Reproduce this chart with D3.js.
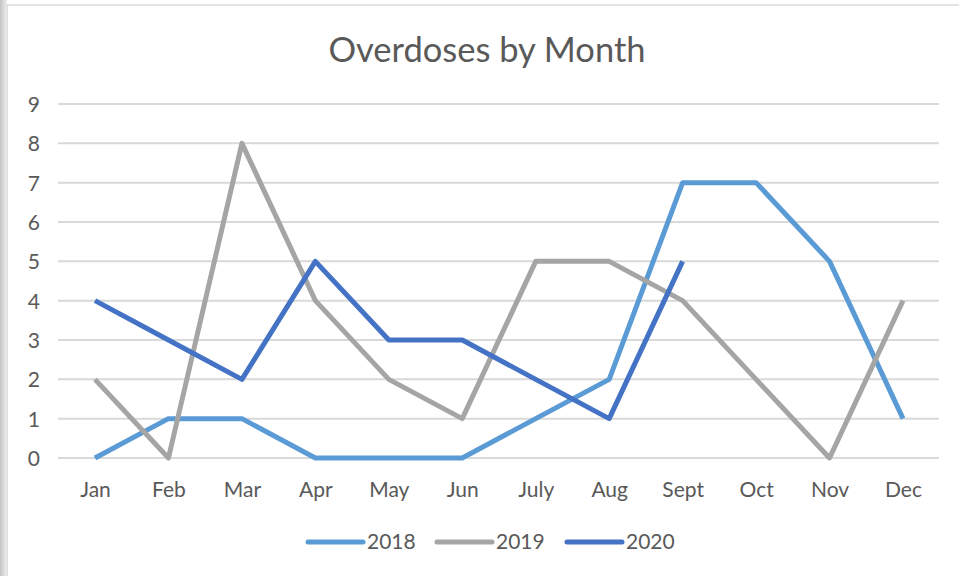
<!DOCTYPE html>
<html>
<head>
<meta charset="utf-8">
<script src="https://cdn.jsdelivr.net/npm/d3@7"></script>
<style>
  body { margin: 0; background: #fff; }
  svg text { font-family: Lato, "Open Sans", sans-serif; fill: #595959; }
</style>
</head>
<body>
<svg id="chart" width="959" height="576"></svg>
<script>
// chart data
let months = ['Jan', 'Feb', 'Mar', 'Apr', 'May', 'Jun', 'July', 'Aug', 'Sept', 'Oct', 'Nov', 'Dec'];
let years = ['2018', '2019', '2020'];
let values2018 = [0, 1, 1, 0, 0, 0, 1, 2, 7, 7, 5, 1];
let values2019 = [2, 0, 8, 4, 2, 1, 5, 5, 4, 2, 0, 4];
let values2020 = [4, 3, 2, 5, 3, 3, 2, 1, 5];
let yTicks = [0, 1, 2, 3, 4, 5, 6, 7, 8, 9];

let COLORS = {
  '2018': '#5B9BD5',
  '2019': '#A5A5A5',
  '2020': '#4472C4'
};

let series = [
  { name: '2018', values: values2018 },
  { name: '2019', values: values2019 },
  { name: '2020', values: values2020 }
];

let svg = d3.select('#chart');

// frame: faint top rule and shadowed left edge
let defs = svg.append('defs');
let grad = defs.append('linearGradient').attr('id', 'shadow').attr('x1', 0).attr('x2', 1);
grad.append('stop').attr('offset', 0).attr('stop-color', '#c4c4c4');
grad.append('stop').attr('offset', 1).attr('stop-color', '#eeeeee');
svg.append('rect').attr('x', 0).attr('y', 0).attr('width', 7).attr('height', 576).attr('fill', 'url(#shadow)');
svg.append('line').attr('x1', 6).attr('x2', 959).attr('y1', 5).attr('y2', 5)
  .attr('stroke', '#e3e3e3').attr('stroke-width', 2);
svg.append('line').attr('x1', 7.5).attr('x2', 7.5).attr('y1', 5).attr('y2', 576)
  .attr('stroke', '#dcdcdc').attr('stroke-width', 1);

let x = d3.scalePoint().domain(months).range([95, 903]);
let y = d3.scaleLinear().domain([0, 9]).range([458, 104]);

// gridlines
svg.append('g').attr('class', 'grid')
  .selectAll('line').data(yTicks).enter().append('line')
    .attr('x1', 58).attr('x2', 939)
    .attr('y1', d => y(d)).attr('y2', d => y(d))
    .attr('stroke', '#d9d9d9').attr('stroke-width', 2);

// y axis labels
let yAxis = svg.append('g').attr('transform', 'translate(40,0)')
  .call(d3.axisLeft(y).tickValues(yTicks).tickSize(0).tickPadding(0));
yAxis.select('.domain').remove();
yAxis.selectAll('text').attr('font-size', 21).attr('text-anchor', 'end')
  .style('font-family', 'Lato, sans-serif').attr('fill', '#595959').attr('dy', '0.35em');

// x axis labels
let xAxis = svg.append('g').attr('transform', 'translate(0,482)')
  .call(d3.axisBottom(x).tickSize(0).tickPadding(0));
xAxis.select('.domain').remove();
xAxis.selectAll('text').attr('font-size', 21).attr('dy', '0.71em')
  .style('font-family', 'Lato, sans-serif').attr('fill', '#595959');

// lines
let line = d3.line()
  .x((d, i) => x(months[i]))
  .y(d => y(d));

svg.append('g').attr('class', 'series')
  .selectAll('path').data(series).enter().append('path')
    .attr('d', d => line(d.values))
    .attr('fill', 'none')
    .attr('stroke', d => COLORS[d.name])
    .attr('stroke-width', 5)
    .attr('stroke-linejoin', 'round');

// title
svg.append('text')
  .attr('x', 487).attr('y', 62)
  .attr('text-anchor', 'middle')
  .attr('font-size', 34.5)
  .text('Overdoses by Month');

// legend
let legendX = [308, 437, 567];
let legend = svg.append('g').attr('class', 'legend')
  .selectAll('g').data(years).enter().append('g')
    .attr('transform', (d, i) => 'translate(' + legendX[i] + ',542)');
legend.append('line')
  .attr('x1', 0).attr('x2', 55)
  .attr('stroke', d => COLORS[d]).attr('stroke-width', 5).attr('stroke-linecap', 'round');
legend.append('text')
  .attr('x', 59).attr('y', 0).attr('dy', '0.35em')
  .attr('font-size', 21)
  .text(d => d);
</script>
</body>
</html>
